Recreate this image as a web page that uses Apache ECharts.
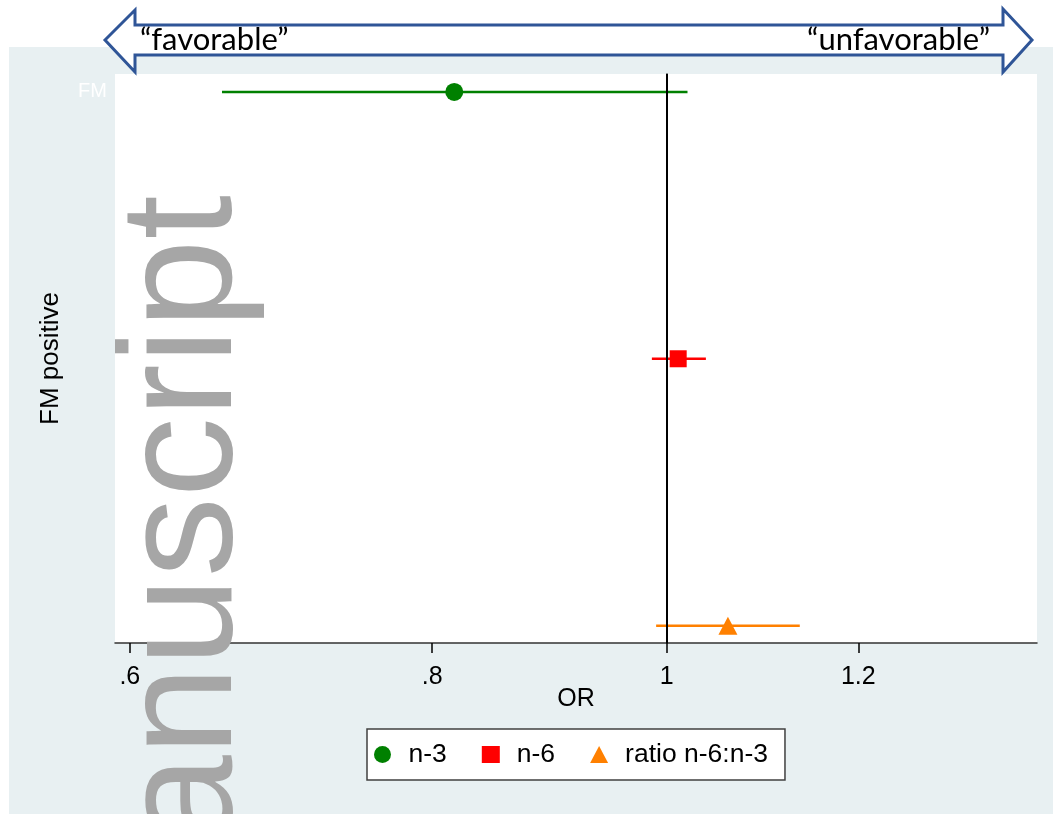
<!DOCTYPE html>
<html><head><meta charset="utf-8">
<script src="https://cdn.jsdelivr.net/npm/echarts@6/dist/echarts.min.js"></script>
<style>html,body{margin:0;padding:0;background:#fff}#c{width:1053px;height:814px}</style>
</head><body><div id="c"></div>
<script>
// ---- data ----
const groups = ['n-3', 'n-6', 'ratio n-6:n-3'];
const rowPos = [3, 2, 1];
const orValues = [0.817, 1.011, 1.060];
const ciLower = [0.655, 0.986, 0.990];
const ciUpper = [1.020, 1.038, 1.135];
const tickValues = [0.6, 0.8, 1, 1.2];
const tickLabels = ['.6', '.8', '1', '1.2'];
const yTickPos = [3];
const yTickLabels = ['FM'];
const xRange = [0.5916, 1.4224];
const yRange = [0.935, 3.067];
const refLineOR = 1;

// ---- styles ----
const colors = ['#008000', '#ff0000', '#ff8000'];
const symbols = ['circle', 'rect', 'triangle'];
const symSizes = [18, 17, [19, 18]];
const FONT = 'Liberation Sans, Arial, sans-serif';

const ln = Math.log;
const series = [];
groups.forEach((g, i) => {
  series.push({
    name: 'CI ' + g, type: 'line', z: 2, symbol: 'none', silent: true,
    data: [[ln(ciLower[i]), rowPos[i]], [ln(ciUpper[i]), rowPos[i]]],
    lineStyle: { color: colors[i], width: 2.5 },
    markLine: i === 0 ? {
      silent: true, symbol: 'none', label: { show: false },
      lineStyle: { color: '#000', width: 2, type: 'solid' },
      data: [{ xAxis: ln(refLineOR) }]
    } : undefined
  });
});
groups.forEach((g, i) => {
  series.push({
    name: g, type: 'scatter', z: 3, symbol: symbols[i], symbolSize: symSizes[i],
    itemStyle: { color: colors[i], opacity: 1 },
    data: [[ln(orValues[i]), rowPos[i]]]
  });
});

const chart = echarts.init(document.getElementById('c'), null, { renderer: 'canvas' });
chart.setOption({
  backgroundColor: '#ffffff',
  animation: false,
  textStyle: { fontFamily: FONT },
  grid: { left: 115, right: 16, top: 74, bottom: 171, show: true, backgroundColor: '#ffffff', borderWidth: 0 },
  xAxis: {
    type: 'value', min: ln(xRange[0]), max: ln(xRange[1]),
    axisLine: { show: true, lineStyle: { color: '#333', width: 1.5 } },
    axisTick: { show: true, length: 10, customValues: tickValues.map(ln), lineStyle: { color: '#000', width: 1.5 } },
    axisLabel: {
      customValues: tickValues.map(ln), margin: 22, fontSize: 25, color: '#000', fontFamily: FONT,
      formatter: v => { let k = 0, best = 1e9; tickValues.forEach((t, j) => { const d = Math.abs(ln(t) - v); if (d < best) { best = d; k = j; } }); return tickLabels[k]; }
    },
    splitLine: { show: false },
    name: 'OR', nameLocation: 'middle', nameGap: 44, nameMoveOverlap: false,
    nameTextStyle: { fontSize: 25, color: '#000', fontFamily: FONT }
  },
  yAxis: {
    type: 'value', min: yRange[0], max: yRange[1],
    axisLine: { show: true, lineStyle: { color: '#000', width: 1.5 } },
    axisTick: { show: false },
    axisLabel: {
      customValues: yTickPos, margin: 8, fontSize: 20, color: '#ffffff', fontFamily: FONT,
      formatter: v => yTickLabels[yTickPos.indexOf(v)] || ''
    },
    splitLine: { show: false },
    name: 'FM positive', nameLocation: 'middle', nameGap: 51, nameRotate: 90, nameMoveOverlap: false,
    nameTextStyle: { fontSize: 26, color: '#000', fontFamily: FONT }
  },
  legend: {
    data: groups.map((g, i) => ({ name: g, icon: symbols[i] })),
    left: 367, top: 729, orient: 'horizontal',
    backgroundColor: '#ffffff', borderColor: '#404040', borderWidth: 1.5,
    padding: [12, 17, 12, 7], itemGap: 35, itemWidth: 18, itemHeight: 17,
    textStyle: { fontSize: 26.5, color: '#000', fontFamily: FONT, padding: [0, 0, 0, 12] },
    selectedMode: false
  },
  graphic: [
    { type: 'rect', z: -100, silent: true, shape: { x: 9, y: 47, width: 1044, height: 767 }, style: { fill: '#e8f0f2' } },
    { type: 'polygon', z: 100, silent: true,
      shape: { points: [[105, 40], [135, 10], [135, 25], [1003, 25], [1003, 9], [1032, 40], [1003, 72], [1003, 55], [135, 55], [135, 72]] },
      style: { fill: '#ffffff', stroke: '#2f5597', lineWidth: 3 } },
    { type: 'text', z: 101, silent: true, x: 140, y: 40,
      style: { text: '\u201Cfavorable\u201D', font: '31px Lato, sans-serif', fill: '#000', align: 'left', verticalAlign: 'middle' } },
    { type: 'text', z: 101, silent: true, x: 990, y: 40,
      style: { text: '\u201Cunfavorable\u201D', font: '31px Lato, sans-serif', fill: '#000', align: 'right', verticalAlign: 'middle' } },
    { type: 'text', z: 200, silent: true, x: 187, y: 195, rotation: Math.PI / 2,
      style: { text: 'Manuscript', font: '160px "Liberation Sans", Arial, sans-serif', fill: '#a6a6a6', align: 'right', verticalAlign: 'middle' } }
  ],
  series: series
});
</script>
</body></html>
